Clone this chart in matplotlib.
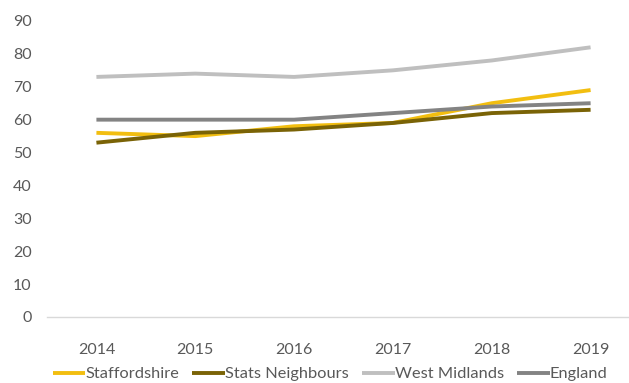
import matplotlib
matplotlib.use("Agg")
import matplotlib.pyplot as plt

years = ["2014", "2015", "2016", "2017", "2018", "2019"]
staffordshire = [56, 55, 58, 59, 65, 69]
stats_neighbours = [53, 56, 57, 59, 62, 63]
west_midlands = [73, 74, 73, 75, 78, 82]
england = [60, 60, 60, 62, 64, 65]

series = [
    ("Staffordshire", staffordshire, "#F2BE10"),
    ("Stats Neighbours", stats_neighbours, "#7A6306"),
    ("West Midlands", west_midlands, "#BFBFBF"),
    ("England", england, "#838383"),
]

plt.rcParams["font.family"] = ["Lato", "DejaVu Sans"]
text_color = "#595959"

fig = plt.figure(figsize=(6.29, 3.83), dpi=100)
# axes run a little past the right edge, as in the reference crop
ax = fig.add_axes([47 / 629, 1 - 317 / 383, 593 / 629, 296 / 383])

x = range(len(years))
for name, vals, color in series:
    ax.plot(x, vals, color=color, lw=2.8, label=name, solid_capstyle="butt", clip_on=False)

ax.set_xlim(-0.5, len(years) - 0.5)
ax.set_ylim(0, 90)
ax.set_yticks(range(0, 91, 10))
ax.set_xticks(list(x))
ax.set_xticklabels(years)

for side in ("top", "right", "left"):
    ax.spines[side].set_visible(False)
ax.spines["bottom"].set_color("#D9D9D9")
ax.spines["bottom"].set_linewidth(1.0)
ax.tick_params(axis="both", length=0, labelsize=11.5, labelcolor=text_color)
ax.tick_params(axis="y", pad=11)
ax.tick_params(axis="x", pad=19)

fig.legend(
    loc="center",
    bbox_to_anchor=(330 / 629, 1 - 374 / 383),
    ncol=4,
    frameon=False,
    fontsize=11.8,
    labelcolor=text_color,
    handlelength=2.0,
    handletextpad=0.0,
    columnspacing=0.8,
    borderaxespad=0,
)

fig.savefig("out.png", dpi=100)
